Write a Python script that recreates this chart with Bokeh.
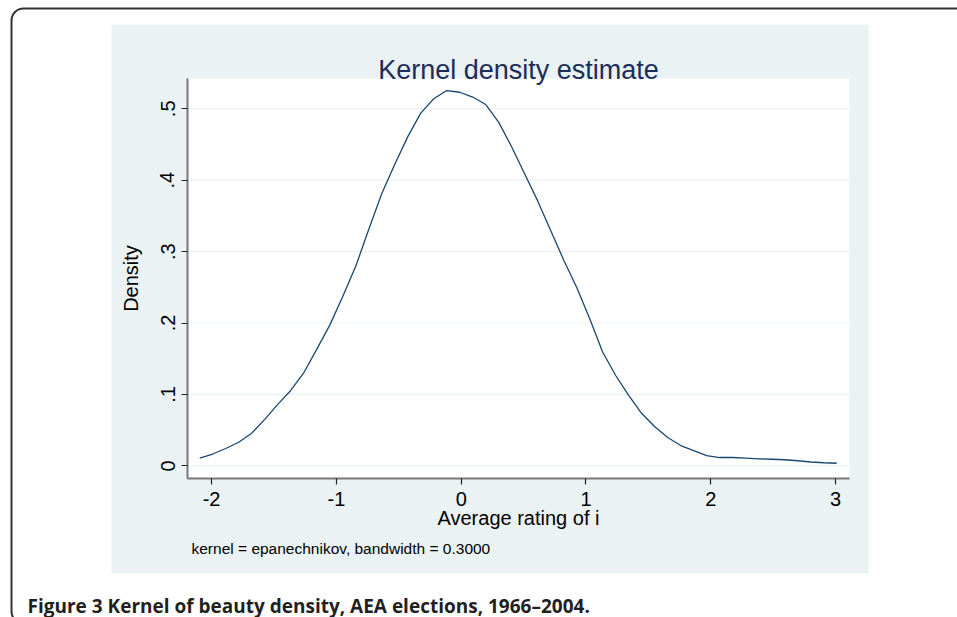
from bokeh.plotting import figure
from bokeh.models import Range1d, FixedTicker, BoxAnnotation, Label, LinearAxis
from bokeh.embed import file_html
from bokeh.resources import INLINE

# ---- data ----
rating = [-2.095, -1.991, -1.887, -1.783, -1.678, -1.574, -1.470, -1.366, -1.262, -1.158,
          -1.053, -0.949, -0.845, -0.741, -0.637, -0.533, -0.428, -0.324, -0.220, -0.116,
          -0.012, 0.092, 0.197, 0.301, 0.405, 0.509, 0.613, 0.717, 0.822, 0.926,
          1.030, 1.134, 1.238, 1.342, 1.447, 1.551, 1.655, 1.759, 1.863, 1.967,
          2.072, 2.176, 2.280, 2.384, 2.488, 2.592, 2.697, 2.801, 2.905, 3.009]
density = [0.0106, 0.0165, 0.0242, 0.0330, 0.0457, 0.0650, 0.0860, 0.1055, 0.1300, 0.1630,
           0.1970, 0.2370, 0.2795, 0.3310, 0.3810, 0.4220, 0.4610, 0.4940, 0.5140, 0.5256,
           0.5232, 0.5165, 0.5060, 0.4810, 0.4465, 0.4087, 0.3710, 0.3295, 0.2880, 0.2497,
           0.2060, 0.1590, 0.1265, 0.0985, 0.0732, 0.0546, 0.0396, 0.0284, 0.0214, 0.0144,
           0.0116, 0.0116, 0.0108, 0.0098, 0.0092, 0.0085, 0.0071, 0.0053, 0.0043, 0.0036]

x_ticks = [-2, -1, 0, 1, 2, 3]
x_tick_labels = ["-2", "-1", "0", "1", "2", "3"]
y_ticks = [0, 0.1, 0.2, 0.3, 0.4, 0.5]
y_tick_labels = ["0", ".1", ".2", ".3", ".4", ".5"]

# axis extents of the plot region (data units)
axis_x = (-2.193, 3.111)
axis_y = (-0.0178, 0.5424)

title_text = "Kernel density estimate"
x_label = "Average rating of i"
y_label = "Density"
note_text = "kernel = epanechnikov, bandwidth = 0.3000"
caption_text = "Figure 3 Kernel of beauty density, AEA elections, 1966\u20132004."

# ---- styles ----
W, H = 957, 617
GRAPH_BG = "#EAF2F3"
LINE_COLOR = "#1A476F"
TITLE_COLOR = "#1C2D5A"
FONT = "Liberation Sans"

# whole canvas is the frame; chart ranges extended to cover the page
p = figure(width=W, height=H, output_backend="svg", toolbar_location=None,
           x_range=Range1d(-3.6915, 3.9768), y_range=Range1d(-0.21246, 0.65168),
           x_axis_type=None, y_axis_type=None, min_border=0,
           border_fill_color="white", background_fill_color="white", outline_line_color=None)
# page-pixel ranges for the decoration (y top-down)
p.extra_x_ranges = {"px": Range1d(0, W)}
p.extra_y_ranges = {"px": Range1d(H, 0)}

# graph region (light blue) and plot region (white)
p.quad(left=111, right=868, top=24, bottom=573, x_range_name="px", y_range_name="px",
       fill_color=GRAPH_BG, line_color=None)
p.quad(left=axis_x[0], right=axis_x[1], bottom=axis_y[0], top=axis_y[1],
       fill_color="white", line_color=None)

# horizontal grid lines at the y ticks
p.segment(x0=axis_x[0], x1=axis_x[1], y0=y_ticks, y1=y_ticks,
          line_color=GRAPH_BG, line_width=1.2)

# density curve
p.line(rating, density, line_color=LINE_COLOR, line_width=1.3)

def style_axis(ax):
    ax.axis_line_color = "#777777"
    ax.axis_line_width = 2
    ax.major_tick_line_color = "#222222"
    ax.major_tick_line_width = 1.2
    ax.major_tick_out = 6
    ax.major_tick_in = 0
    ax.minor_tick_line_color = None
    ax.major_label_text_font = FONT
    ax.major_label_text_font_size = "20px"
    ax.major_label_text_color = "black"
    ax.axis_label_text_font = FONT
    ax.axis_label_text_font_size = "20px"
    ax.axis_label_text_font_style = "normal"
    ax.axis_label_text_color = "black"

xa = LinearAxis(fixed_location=axis_y[0], bounds=axis_x,
                ticker=FixedTicker(ticks=x_ticks),
                major_label_overrides=dict(zip(x_ticks, x_tick_labels)),
                axis_label=x_label)
style_axis(xa)
xa.major_label_standoff = 7
xa.axis_label_standoff = -2
p.add_layout(xa, "below")

ya = LinearAxis(fixed_location=axis_x[0], bounds=axis_y,
                ticker=FixedTicker(ticks=y_ticks),
                major_label_overrides=dict(zip(y_ticks, y_tick_labels)),
                major_label_orientation="vertical",
                axis_label=y_label)
style_axis(ya)
ya.major_label_standoff = 7
ya.axis_label_standoff = 16
p.add_layout(ya, "left")

# title, note, caption
p.add_layout(Label(x=518, y=69, x_range_name="px", y_range_name="px", text=title_text,
                   text_font=FONT, text_font_size="27px", text_color=TITLE_COLOR,
                   text_align="center", text_baseline="alphabetic"))
p.add_layout(Label(x=191, y=548, x_range_name="px", y_range_name="px", text=note_text,
                   text_font=FONT, text_font_size="15.5px", text_color="black",
                   text_baseline="alphabetic"))
p.add_layout(Label(x=27, y=605, x_range_name="px", y_range_name="px", text=caption_text,
                   text_font="Open Sans", text_font_size="19px", text_font_style="bold",
                   text_color="#231F20", text_baseline="alphabetic"))

# rounded outer frame (right and bottom sides lie beyond the page)
p.add_layout(BoxAnnotation(left=11, right=1000, top=8, bottom=623,
                           x_range_name="px", y_range_name="px",
                           fill_alpha=0, line_color="#333333", line_alpha=1.0, line_width=2,
                           border_radius=12))

open("out.html", "w").write(file_html(p, INLINE))
